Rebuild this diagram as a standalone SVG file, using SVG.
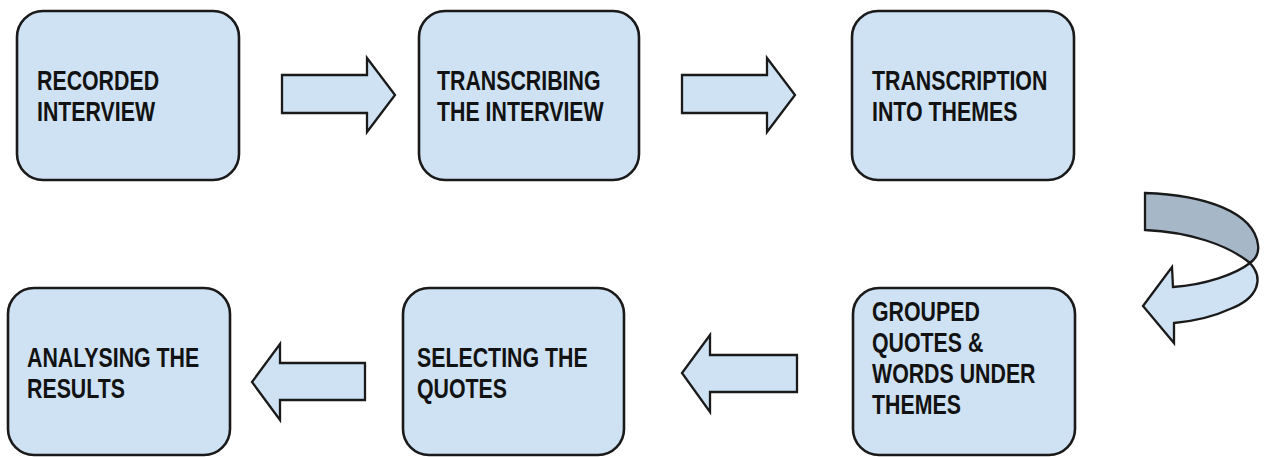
<svg xmlns="http://www.w3.org/2000/svg" width="1270" height="457" viewBox="0 0 1270 457">
<style>
.box{fill:#cfe2f3;stroke:#1a1a1a;stroke-width:2.6}
.arr{fill:#cfe2f3;stroke:#1a1a1a;stroke-width:2.3;stroke-linejoin:miter}
.dark{fill:#a6b7c8;stroke:#1a1a1a;stroke-width:2.3}
.lbl{font-family:"Liberation Sans",Arial,sans-serif;font-weight:bold;font-size:27px;fill:#121212}
</style>
<rect width="1270" height="457" fill="#ffffff"/>
<g id="node-recorded">
<rect class="box" x="17" y="11" width="222" height="169" rx="26"/>
<text class="lbl" transform="translate(37,90) scale(0.79,1)"><tspan x="0" y="0">RECORDED</tspan><tspan x="0" y="31">INTERVIEW</tspan></text>
</g>
<g id="node-transcribing">
<rect class="box" x="419" y="11" width="220" height="169" rx="26"/>
<text class="lbl" transform="translate(437,90) scale(0.79,1)"><tspan x="0" y="0">TRANSCRIBING</tspan><tspan x="0" y="31">THE INTERVIEW</tspan></text>
</g>
<g id="node-themes">
<rect class="box" x="852" y="11" width="222" height="169" rx="26"/>
<text class="lbl" transform="translate(872,90) scale(0.79,1)"><tspan x="0" y="0">TRANSCRIPTION</tspan><tspan x="0" y="31">INTO THEMES</tspan></text>
</g>
<g id="node-grouped">
<rect class="box" x="853" y="288" width="222" height="167" rx="26"/>
<text class="lbl" transform="translate(872,321) scale(0.79,1)"><tspan x="0" y="0">GROUPED</tspan><tspan x="0" y="31">QUOTES &amp;</tspan><tspan x="0" y="62">WORDS UNDER</tspan><tspan x="0" y="93">THEMES</tspan></text>
</g>
<g id="node-selecting">
<rect class="box" x="403" y="288" width="221" height="167" rx="26"/>
<text class="lbl" transform="translate(417,367) scale(0.79,1)"><tspan x="0" y="0">SELECTING THE</tspan><tspan x="0" y="31">QUOTES</tspan></text>
</g>
<g id="node-analysing">
<rect class="box" x="8" y="288" width="222" height="167" rx="26"/>
<text class="lbl" transform="translate(27,367) scale(0.79,1)"><tspan x="0" y="0">ANALYSING THE</tspan><tspan x="0" y="31">RESULTS</tspan></text>
</g>
<g id="connectors">
<path class="arr" d="M282,75 H367 V58 L395,95 L367,132 V113 H282 Z"/>
<path class="arr" d="M682,75 H767 V58 L795,95 L767,132 V113 H682 Z"/>
<path class="dark" d="M1145,193 C1205,195 1254,212 1258,245 C1259,252 1257,258 1250,263 C1228,245 1190,232 1145,230 Z"/>
<path class="arr" d="M1250,263 C1264,278 1259,298 1230,309 C1215,316 1195,321 1174,323 L1174,343 L1143,306 L1172,267 L1173,287 C1205,285 1236,274 1250,263 Z"/>
<path class="arr" d="M797,355 H710 V335 L682,373 L710,412 V392 H797 Z"/>
<path class="arr" d="M365,363 H280 V344 L252,382 L280,420 V400 H365 Z"/>
</g>
</svg>
